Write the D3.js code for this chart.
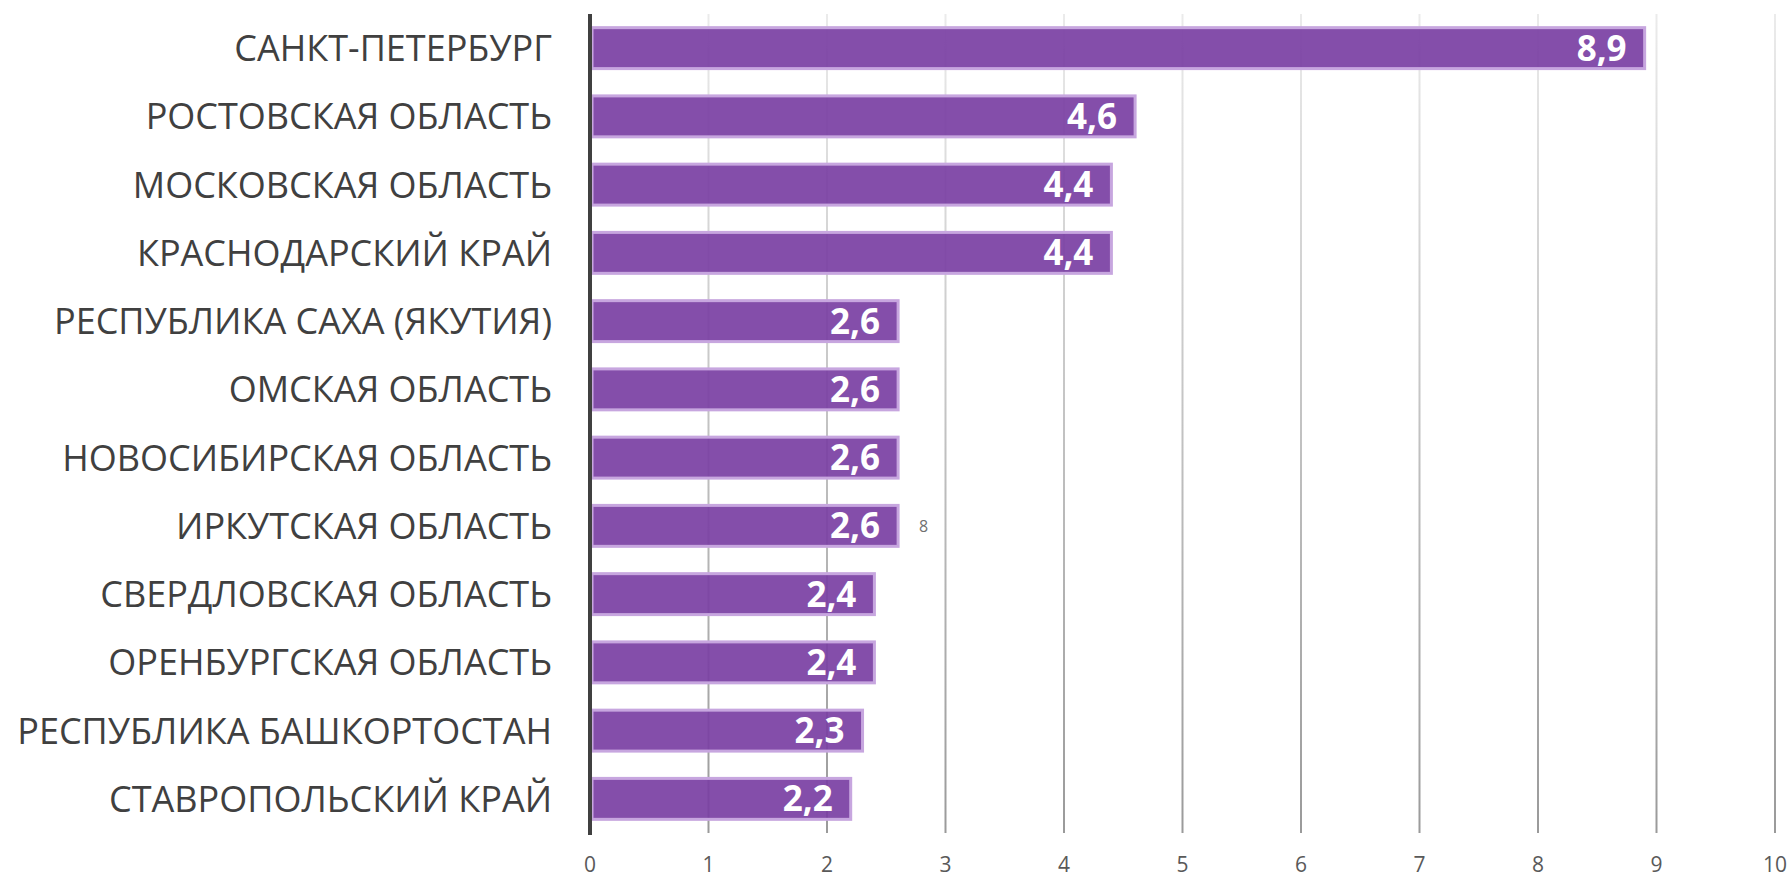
<!DOCTYPE html>
<html>
<head>
<meta charset="utf-8">
<script src="https://cdn.jsdelivr.net/npm/d3@7"></script>
<style>
  body { margin: 0; background: #fff; }
  svg { display: block; }
</style>
</head>
<body>
<div id="chart"></div>
<script>
// regions, top to bottom
var regions = [
  "САНКТ-ПЕТЕРБУРГ",
  "РОСТОВСКАЯ ОБЛАСТЬ",
  "МОСКОВСКАЯ ОБЛАСТЬ",
  "КРАСНОДАРСКИЙ КРАЙ",
  "РЕСПУБЛИКА САХА (ЯКУТИЯ)",
  "ОМСКАЯ ОБЛАСТЬ",
  "НОВОСИБИРСКАЯ ОБЛАСТЬ",
  "ИРКУТСКАЯ ОБЛАСТЬ",
  "СВЕРДЛОВСКАЯ ОБЛАСТЬ",
  "ОРЕНБУРГСКАЯ ОБЛАСТЬ",
  "РЕСПУБЛИКА БАШКОРТОСТАН",
  "СТАВРОПОЛЬСКИЙ КРАЙ"
];
var values = [8.9, 4.6, 4.4, 4.4, 2.6, 2.6, 2.6, 2.6, 2.4, 2.4, 2.3, 2.2];
var xTicks = [0, 1, 2, 3, 4, 5, 6, 7, 8, 9, 10];
// stray label sitting next to one bar in the original
var strayLabel = { region: "ИРКУТСКАЯ ОБЛАСТЬ", text: "8" };

var W = 1791, H = 880;
var margin = { top: 14, right: 16, bottom: 47, left: 590 };
var width = W - margin.left - margin.right;
var height = H - margin.top - margin.bottom;

var svg = d3.select("#chart").append("svg")
  .attr("width", W)
  .attr("height", H);

var defs = svg.append("defs");
var grad = defs.append("linearGradient")
  .attr("id", "gridFade")
  .attr("gradientUnits", "userSpaceOnUse")
  .attr("x1", 0).attr("y1", 0)
  .attr("x2", 0).attr("y2", height);
grad.append("stop").attr("offset", "0%").attr("stop-color", "#ebebeb");
grad.append("stop").attr("offset", "100%").attr("stop-color", "#9a9a9a");

var g = svg.append("g")
  .attr("transform", "translate(" + margin.left + "," + margin.top + ")");

var x = d3.scaleLinear().domain([0, 10]).range([0, 1185]);
var y = d3.scaleBand()
  .domain(regions)
  .range([0, height])
  .paddingInner(0.4)
  .paddingOuter(0.2);

// gridlines
g.selectAll(".grid")
  .data(xTicks.slice(1))
  .enter().append("line")
  .attr("class", "grid")
  .attr("x1", function(d) { return x(d); })
  .attr("x2", function(d) { return x(d); })
  .attr("y1", 0)
  .attr("y2", height)
  .attr("stroke", "url(#gridFade)")
  .attr("stroke-width", 2);

// tick labels
g.selectAll(".tick-label")
  .data(xTicks)
  .enter().append("text")
  .attr("class", "tick-label")
  .attr("x", function(d) { return x(d); })
  .attr("y", height + 39)
  .attr("text-anchor", "middle")
  .style("font-family", "'Open Sans', sans-serif")
  .style("font-size", "21px")
  .style("fill", "#595959")
  .text(function(d) { return d; });

// bars
g.selectAll(".bar")
  .data(values)
  .enter().append("rect")
  .attr("class", "bar")
  .attr("x", x(0) + 2)
  .attr("y", function(d, i) { return y(regions[i]); })
  .attr("width", function(d) { return x(d) - x(0) - 2; })
  .attr("height", y.bandwidth())
  .attr("fill", "#7a3fa3")
  .attr("fill-opacity", 0.92)
  .attr("stroke", "#c7a6df")
  .attr("stroke-width", 3);

// value labels
g.selectAll(".val")
  .data(values)
  .enter().append("text")
  .attr("class", "val")
  .attr("x", function(d) { return x(d) - 18; })
  .attr("y", function(d, i) { return y(regions[i]) + y.bandwidth() / 2; })
  .attr("dy", "0.36em")
  .attr("text-anchor", "end")
  .style("font-family", "'Open Sans', sans-serif")
  .style("font-weight", "bold")
  .style("font-size", "35px")
  .style("fill", "#fff")
  .text(function(d) { return String(d).replace(".", ","); });

// category labels
g.selectAll(".cat")
  .data(regions)
  .enter().append("text")
  .attr("class", "cat")
  .attr("x", -38)
  .attr("y", function(d) { return y(d) + y.bandwidth() / 2; })
  .attr("dy", "0.36em")
  .attr("text-anchor", "end")
  .style("font-family", "'Open Sans', sans-serif")
  .style("font-size", "36px")
  .style("fill", "#404040")
  .text(function(d) { return d; });

// stray label
g.append("text")
  .attr("x", x(3) - 22)
  .attr("y", y(strayLabel.region) + y.bandwidth() / 2)
  .attr("dy", "0.36em")
  .attr("text-anchor", "middle")
  .style("font-family", "'Open Sans', sans-serif")
  .style("font-size", "16px")
  .style("fill", "#707070")
  .text(strayLabel.text);

// zero axis line
g.append("line")
  .attr("x1", x(0)).attr("x2", x(0))
  .attr("y1", 0).attr("y2", height + 2)
  .attr("stroke", "#404040")
  .attr("stroke-width", 4);
</script>
</body>
</html>
